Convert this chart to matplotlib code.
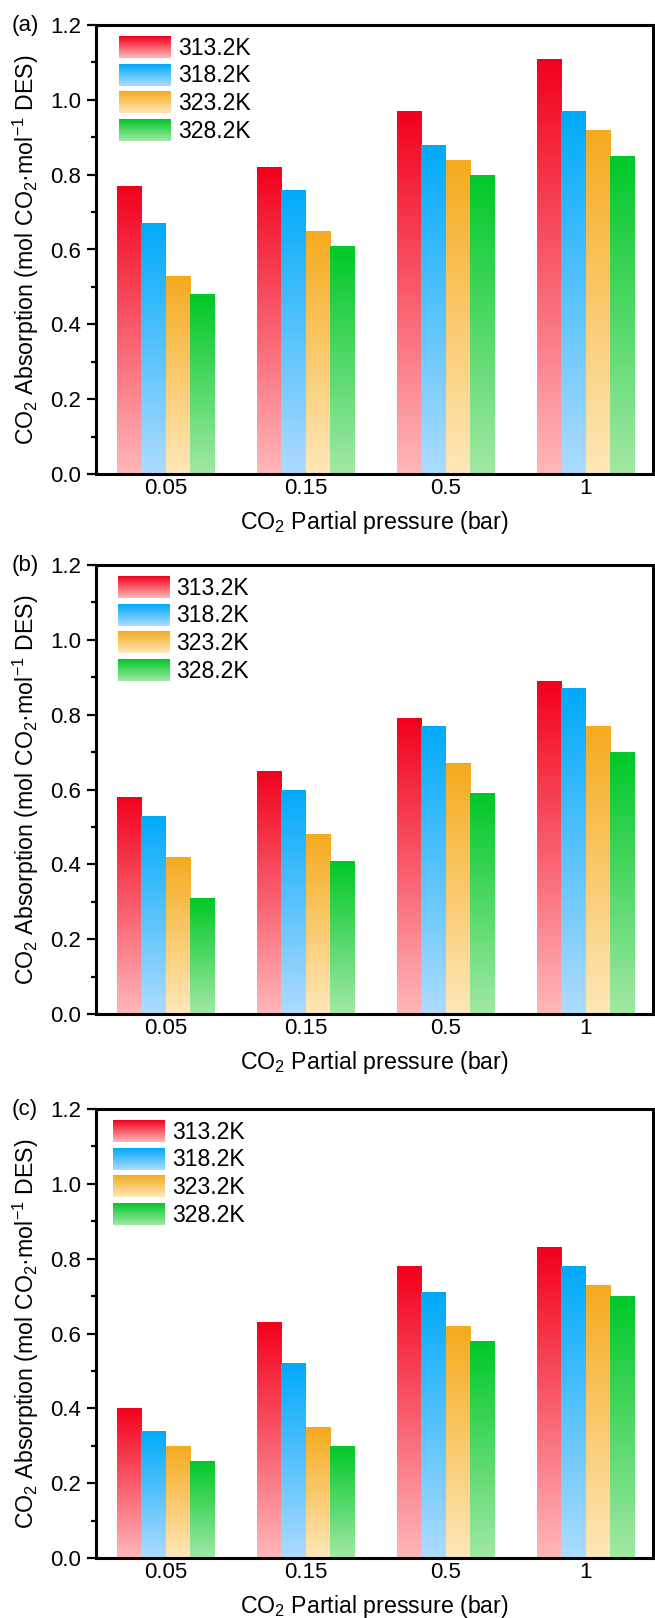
import numpy as np
import matplotlib
matplotlib.use("Agg")
import matplotlib.pyplot as plt
from matplotlib.colors import LinearSegmentedColormap
from matplotlib.legend_handler import HandlerBase
from matplotlib.image import BboxImage
from matplotlib.transforms import Bbox, TransformedBbox
from matplotlib.patches import Rectangle
from matplotlib.ticker import MultipleLocator, FormatStrFormatter

plt.rcParams['font.family'] = ['Liberation Sans', 'DejaVu Sans']
plt.rcParams['mathtext.fontset'] = 'custom'
plt.rcParams['mathtext.rm'] = 'Liberation Sans'
plt.rcParams['mathtext.it'] = 'Liberation Sans:italic'
plt.rcParams['mathtext.bf'] = 'Liberation Sans:bold'

# ---- data ----
pressures = ["0.05", "0.15", "0.5", "1"]
temperatures = ["313.2K", "318.2K", "323.2K", "328.2K"]
panel_labels = ["(a)", "(b)", "(c)"]

a_313 = [0.77, 0.82, 0.97, 1.11]
a_318 = [0.67, 0.76, 0.88, 0.97]
a_323 = [0.53, 0.65, 0.84, 0.92]
a_328 = [0.48, 0.61, 0.80, 0.85]

b_313 = [0.58, 0.65, 0.79, 0.89]
b_318 = [0.53, 0.60, 0.77, 0.87]
b_323 = [0.42, 0.48, 0.67, 0.77]
b_328 = [0.31, 0.41, 0.59, 0.70]

c_313 = [0.40, 0.63, 0.78, 0.83]
c_318 = [0.34, 0.52, 0.71, 0.78]
c_323 = [0.30, 0.35, 0.62, 0.73]
c_328 = [0.26, 0.30, 0.58, 0.70]

panels = [[a_313, a_318, a_323, a_328],
          [b_313, b_318, b_323, b_328],
          [c_313, c_318, c_323, c_328]]

top_colors = ["#F2001C", "#00AAFA", "#F5AA1E", "#00C828"]
bottom_colors = ["#FFB8BB", "#AEDBFF", "#FFE8BA", "#A2E8A6"]

cmaps = [LinearSegmentedColormap.from_list(f"g{i}", [bottom_colors[i], top_colors[i]])
         for i in range(4)]
grad = np.linspace(0, 1, 256).reshape(-1, 1)[::-1]


class HandlerGradient(HandlerBase):
    def __init__(self, cmap):
        super().__init__()
        self.cmap = cmap

    def create_artists(self, legend, orig_handle, xdescent, ydescent,
                       width, height, fontsize, trans):
        bb = TransformedBbox(Bbox.from_bounds(-xdescent, -ydescent, width, height), trans)
        img = BboxImage(bb, cmap=self.cmap, interpolation='bilinear')
        img.set_data(grad)
        img.set_clim(0, 1)
        return [img]


TICK_FS = 16
XLABEL_FS = 16.7
YLABEL_FS = 16.7
LEG_FS = 16.6

fig = plt.figure(figsize=(6.55, 16.18), dpi=100)
left = 96 / 655
width = (653 - 96) / 655
height = 449 / 1618
bottoms = [1 - 474 / 1618, 1 - 1014 / 1618, 1 - 1558 / 1618]
legend_x = [0.041, 0.039, 0.031]

x = np.arange(len(pressures))
bw = 0.175
offsets = (np.arange(4) - 1.5) * bw

for p in range(3):
    ax = fig.add_axes([left, bottoms[p], width, height])
    handles = []
    for s in range(4):
        bars = ax.bar(x + offsets[s], panels[p][s], width=bw, facecolor='none',
                      edgecolor='none', zorder=2)
        for bar in bars:
            x0 = bar.get_x()
            h = bar.get_height()
            im = ax.imshow(grad, cmap=cmaps[s], vmin=0, vmax=1, aspect='auto',
                           extent=[x0, x0 + bar.get_width(), 0, h],
                           interpolation='bilinear', zorder=2)
            im.set_clip_path(bar)
        handles.append(Rectangle((0, 0), 1, 1, label=temperatures[s]))

    ax.set_xlim(-0.5, 3.48)
    ax.set_ylim(0, 1.2)
    ax.set_xticks(x)
    ax.set_xticklabels(pressures)
    ax.yaxis.set_major_locator(MultipleLocator(0.2))
    ax.yaxis.set_minor_locator(MultipleLocator(0.1))
    ax.yaxis.set_major_formatter(FormatStrFormatter('%.1f'))
    ax.tick_params(axis='y', which='major', direction='out', length=6.5, width=1.6,
                   labelsize=TICK_FS, pad=4)
    ax.tick_params(axis='y', which='minor', direction='out', length=3.5, width=1.6)
    ax.tick_params(axis='x', which='both', length=0, labelsize=TICK_FS, pad=3)
    for sp in ax.spines.values():
        sp.set_linewidth(2.2)

    ax.set_ylabel("CO$_2$ Absorption (mol CO$_2$\u00b7mol$^{-1}$ DES)", fontsize=YLABEL_FS)
    ax.yaxis.set_label_coords(-0.099, 0.5)
    ax.set_xlabel("CO$_2$ Partial pressure (bar)", fontsize=XLABEL_FS)
    ax.xaxis.set_label_coords(0.5, -0.077)

    ax.text(-0.152, 1.0, panel_labels[p], transform=ax.transAxes, fontsize=TICK_FS,
            ha='left', va='center')

    hmap = {handles[s]: HandlerGradient(cmaps[s]) for s in range(4)}
    ax.legend(handles=handles, handler_map=hmap, loc='upper left',
              bbox_to_anchor=(legend_x[p], 0.976), frameon=False, fontsize=LEG_FS,
              handlelength=2.25, handleheight=1.09, handletextpad=0.3,
              labelspacing=0.17, borderpad=0, borderaxespad=0)

fig.savefig("out.png", dpi=100)
